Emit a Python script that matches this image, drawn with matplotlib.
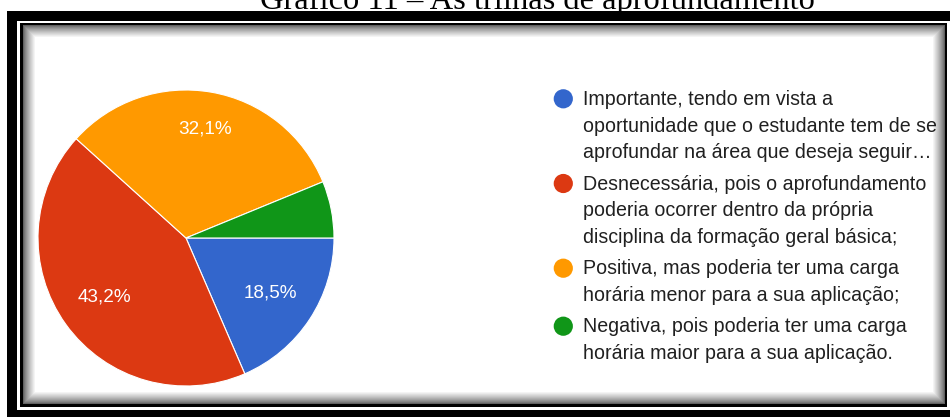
import matplotlib
matplotlib.use('Agg')
import matplotlib.pyplot as plt
from matplotlib.patches import Rectangle, Circle

titulo = 'Gráfico 11 – As trilhas de aprofundamento'
respostas = [
    'Importante, tendo em vista a\noportunidade que o estudante tem de se\naprofundar na área que deseja seguir…',
    'Desnecessária, pois o aprofundamento\npoderia ocorrer dentro da própria\ndisciplina da formação geral básica;',
    'Positiva, mas poderia ter uma carga\nhorária menor para a sua aplicação;',
    'Negativa, pois poderia ter uma carga\nhorária maior para a sua aplicação.',
]
percentuais = [18.5, 43.2, 32.1, 6.2]
cores = ['#3366CC', '#DC3912', '#FF9900', '#109618']

W, H = 950, 417
fig = plt.figure(figsize=(W / 100, H / 100), dpi=100)

# fundo / moldura em coordenadas de pixel
bg = fig.add_axes([0, 0, 1, 1])
bg.set_xlim(0, W)
bg.set_ylim(H, 0)
bg.axis('off')

bg.add_patch(Rectangle((7, 11), W + 20, H + 20, color='black', lw=0))
bg.add_patch(Rectangle((17.3, 20.7), W, 410 - 20.7, color='white', lw=0))
bg.add_patch(Rectangle((20, 22.7), 947.3 - 20, 406.7 - 22.7, color='black', lw=0))

# sombra interna (gradiente)
x0, y0, x1, y1 = 22.7, 25, 945, 404.3
n = 13
for i in range(n):
    g = 0.38 + 0.62 * (i / (n - 1)) ** 0.8
    bg.add_patch(Rectangle((x0 + i, y0 + i), (x1 - x0) - 2 * i, (y1 - y0) - 2 * i,
                           color=(g, g, g), lw=0))

# legenda
y_linha = 98.3
passo = 26.7
extra = 4.6
k = 0
for i, (txt, cor) in enumerate(zip(respostas, cores)):
    linhas = txt.split('\n')
    yc = y_linha + k * passo + i * extra
    bg.add_patch(Circle((563.3, yc + 0.5), 9.6, color=cor, lw=0))
    for j, ln in enumerate(linhas):
        bg.text(582.7, yc + j * passo + 6.8, ln, ha='left', va='baseline',
                fontsize=14.1, family='Liberation Sans', color='#202020')
    k += len(linhas)

# pizza
cx, cy, r = 186, 238, 148
ax = fig.add_axes([(cx - r) / W, (H - cy - r) / H, 2 * r / W, 2 * r / H])


def rotulo(p):
    return (f'{p:.1f}'.replace('.', ',') + '%') if p > 10 else ''


wedges, texts, autotexts = ax.pie(
    percentuais, colors=cores, startangle=0, counterclock=False,
    autopct=rotulo, pctdistance=0.68,
    wedgeprops=dict(edgecolor='white', linewidth=0.8),
    textprops=dict(color='white', fontsize=13.6, family=['Liberation Sans']))
px, py = autotexts[2].get_position()
autotexts[2].set_position((px * 1.1, py * 1.1))
ax.set_xlim(-1, 1)
ax.set_ylim(-1, 1)
ax.axis('off')

fig.text(537 / W, 1 - 9 / H, titulo, ha='center', va='baseline',
         fontsize=23.4, family='Liberation Serif', color='black')

fig.savefig('out.png', dpi=100)
